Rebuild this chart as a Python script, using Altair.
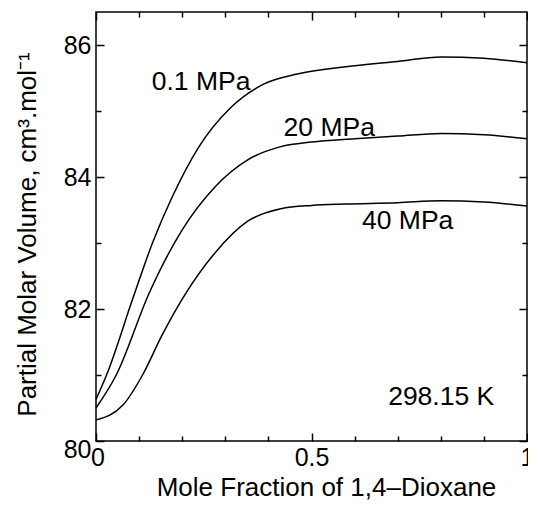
import altair as alt
import pandas as pd

# ---- data ----
series_names = ["0.1 MPa", "20 MPa", "40 MPa"]

x_01 = [0.0, 0.0245, 0.085, 0.131, 0.177, 0.238, 0.314, 0.39, 0.467, 0.58, 0.7, 0.8, 0.9, 1.0]
v_01 = [80.63, 81.0, 82.15, 83.0, 83.70, 84.45, 85.06, 85.41, 85.56, 85.67, 85.75, 85.82, 85.80, 85.73]

x_20 = [0.0, 0.047, 0.124, 0.2, 0.276, 0.352, 0.429, 0.5, 0.6, 0.7, 0.8, 0.9, 1.0]
v_20 = [80.50, 81.0, 82.25, 83.2, 83.85, 84.26, 84.46, 84.53, 84.58, 84.62, 84.66, 84.64, 84.58]

x_40 = [0.0, 0.062, 0.108, 0.153, 0.2, 0.276, 0.352, 0.429, 0.5, 0.58, 0.7, 0.8, 0.9, 1.0]
v_40 = [80.32, 80.54, 81.0, 81.6, 82.15, 82.85, 83.33, 83.52, 83.57, 83.59, 83.61, 83.64, 83.62, 83.56]

label_texts = ["0.1 MPa", "20 MPa", "40 MPa", "298.15 K"]
label_x = [0.2437, 0.5412, 0.7231, 0.8009]
label_v = [85.32, 84.62, 83.21, 80.55]

x_major = [0, 0.5, 1]
x_minor = [0.1, 0.2, 0.3, 0.4, 0.6, 0.7, 0.8, 0.9]
y_major = [80, 82, 84, 86]
y_minor = [81, 83, 85]

# ---- build tables ----
rows = []
for name, xs, vs in zip(series_names, [x_01, x_20, x_40], [v_01, v_20, v_40]):
    for a, b in zip(xs, vs):
        rows.append({"series": name, "x": a, "v": b})
df = pd.DataFrame(rows)
labels_df = pd.DataFrame({"text": label_texts, "x": label_x, "v": label_v})

FONT = "Liberation Sans"
xs_ = alt.Scale(domain=[0, 1], nice=False, zero=False)
ys_ = alt.Scale(domain=[80, 86.5], nice=False, zero=False)

base = alt.Chart(df)

lines = base.mark_line(color="black", strokeWidth=1.5, interpolate="monotone").encode(
    x=alt.X("x:Q", scale=xs_, axis=alt.Axis(
        orient="bottom", values=x_major, format="~g", ticks=False, tickSize=0,
        domain=False, grid=False, labelFlush=False, labelFontSize=25, labelFont=FONT,
        labelColor="black", labelPadding=4,
        labelOffset={"condition": {"test": "datum.value === 0", "value": 1.5}, "value": 0},
        title="Mole Fraction of 1,4\u2013Dioxane", titleFontSize=26, titleFont=FONT,
        titleFontWeight="normal", titleColor="black", titleX=230, titleY=33.5,
        titleBaseline="top", titleAlign="center")),
    y=alt.Y("v:Q", scale=ys_, axis=alt.Axis(
        orient="left", values=y_major, format="~g", ticks=False, tickSize=0,
        domain=False, grid=False, labelFontSize=25, labelFont=FONT, labelColor="black",
        labelPadding=5,
        labelOffset={"condition": {"test": "datum.value === 80", "value": 8}, "value": 0},
        title="Partial Molar Volume, cm\u00b3.mol\u207b\u00b9", titleFontSize=26,
        titleFont=FONT, titleFontWeight="normal", titleColor="black",
        titleX=-55.5, titleY=222, titleAngle=270, titleBaseline="bottom",
        titleAlign="center")),
    detail="series:N",
)


def tick_layer(xorient, yorient, xvals, yvals, size):
    common = dict(tickSize=size, offset=-size, labels=False, domain=False, grid=False,
                  title=None, tickColor="black", tickWidth=1.5, ticks=True)
    return base.mark_line(strokeOpacity=0).encode(
        x=alt.X("x:Q", scale=xs_, axis=alt.Axis(orient=xorient, values=xvals, **common)),
        y=alt.Y("v:Q", scale=ys_, axis=alt.Axis(orient=yorient, values=yvals, **common)),
        detail="series:N",
    )


t1 = tick_layer("bottom", "left", x_major, y_major, 8)
t2 = tick_layer("bottom", "left", x_minor, y_minor, 5)
t3 = tick_layer("top", "right", x_major, y_major, 8)
t4 = tick_layer("top", "right", x_minor, y_minor, 5)

texts = alt.Chart(labels_df).mark_text(
    font=FONT, fontSize=26.5, color="black", align="center", baseline="alphabetic"
).encode(
    x=alt.X("x:Q", scale=xs_, axis=None),
    y=alt.Y("v:Q", scale=ys_, axis=None),
    text="text:N",
)

chart = alt.layer(lines, t1, t2, t3, t4, texts).resolve_axis(
    x="independent", y="independent"
).properties(
    width=431,
    height=429,
    autosize=alt.AutoSizeParams(type="none"),
    padding={"left": 88, "top": 4, "right": 1, "bottom": 60},
    background="white",
).configure_view(stroke="black", strokeWidth=1.5)

chart.save("out.html", embed_options={"renderer": "svg", "actions": False})
